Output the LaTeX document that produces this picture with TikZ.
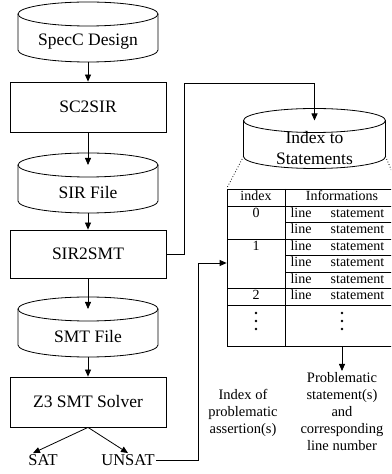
\documentclass[tikz,border=0pt]{standalone}
\usepackage{fontspec}
\setmainfont{Liberation Serif}
\usetikzlibrary{arrows.meta,calc}

% cylinder round a store node (#1 = half width)
\newcommand\dbdraw[2][70]{%
\draw ($(#2.center)+(0,28)$) ellipse [x radius=#1, y radius=12];
\draw ($(#2.center)+(-#1,28)$) -- ($(#2.center)+(-#1,-8)$) arc [start angle=180, end angle=360, x radius=#1, y radius=12] -- ($(#2.center)+(#1,28)$);
}

\begin{document}
\begin{tikzpicture}[x=1pt, y=1pt, line width=0.8pt,
  >={Triangle[length=7pt,width=6pt]},
  proc/.style={draw, minimum width=156pt, minimum height=50pt, font=\fontsize{17.5}{21}\selectfont},
  store/.style={minimum width=140pt, minimum height=32pt, inner sep=0pt, align=center, font=\fontsize{17.5}{21}\selectfont},
  note/.style={align=center, inner sep=1pt, font=\fontsize{14.5}{17}\selectfont},
  cell/.style={inner sep=0pt, text height=1.5ex, text depth=.25ex, font=\fontsize{14}{16}\selectfont}]
\useasboundingbox (0,0) rectangle (391,474);
\clip (0,0) rectangle (391,474);

% main flow
\node[store] (specc) at (88,432) {SpecC Design};
\dbdraw{specc}
\node[proc] (sc2sir) at (88,367) {SC2SIR};
\node[store] (sirfile) at (88,281) {SIR File};
\dbdraw{sirfile}
\node[proc, minimum height=48pt] (sir2smt) at (88,220) {SIR2SMT};
\node[store] (smtfile) at (88,137) {SMT File};
\dbdraw{smtfile}
\node[proc] (z3) at (88,72) {Z3 SMT Solver};
\node[note, font=\fontsize{16.5}{19}\selectfont] (sat) at (43,14) {SAT};
\node[note, font=\fontsize{16.5}{19}\selectfont] (unsat) at (128,14) {UNSAT};

\draw[->] ([yshift=-20pt]specc.center) -- (sc2sir.north);
\draw[->] (sc2sir.south) -- ([yshift=28pt]sirfile.center);
\draw[->] ([yshift=-20pt]sirfile.center) -- (sir2smt.north);
\draw[->] (sir2smt.south) -- ([yshift=28pt]smtfile.center);
\draw[->] ([yshift=-20pt]smtfile.center) -- (z3.north);
\draw[->] (z3.south) -- ([xshift=-10pt]sat.north);
\draw[->] (z3.south) -- (unsat.north);

% index store and table
\node[store, minimum width=142pt] (index) at (314.5,325.5) {Index to\\Statements};
\dbdraw[71]{index}
\node[draw, minimum width=172pt, minimum height=157pt, inner sep=0pt] (tbl) at (313,206.5) {};
\draw (285,285) -- (285,128);
\foreach \y in {268,235,185.5,169} \draw (227,\y) -- (399,\y);
\foreach \y in {251.5,218.5,202} \draw (285,\y) -- (399,\y);
\node[cell] (hidx) at (256,276.5) {index};
\node[cell] (hinf) at (342,276.5) {Informations};
\node[cell] (i0) at (256,259.75) {0};
\node[cell] (i1) at (256,226.75) {1};
\node[cell] (i2) at (256,177.25) {2};
\foreach \r [count=\i] in {259.75,243.25,226.75,210.25,193.75,177.25} {
  \node[cell] (ln\i) at (301,\r) {line};
  \node[cell] (st\i) at (357.5,\r) {statement};
}
\foreach \x in {256,342} \foreach \y in {161,153,145} \fill (\x,\y) circle (1.3);
\draw[dotted] ($(index.center)+(-71,-8)$) -- (tbl.north west);
\draw[dotted] ($(index.center)+(71,-8)$) -- (tbl.north east);

\node[note] (assert) at (243,61.5) {Index of\\problematic\\assertion(s)};
\node[note] (prob) at (342,62.5) {Problematic\\statement(s)\\and\\corresponding\\line number};

% connectors to the side
\draw[->] (sir2smt.east) -- ++(18,0) |- ($(index.center)+(0,65.5)$) -- ([yshift=28pt]index.center);
\draw[->] (unsat.east) -- (198,14) |- ([yshift=4.5pt]tbl.west);
\draw[->] (prob.north |- tbl.south) -- (prob.north);
\end{tikzpicture}
\end{document}
